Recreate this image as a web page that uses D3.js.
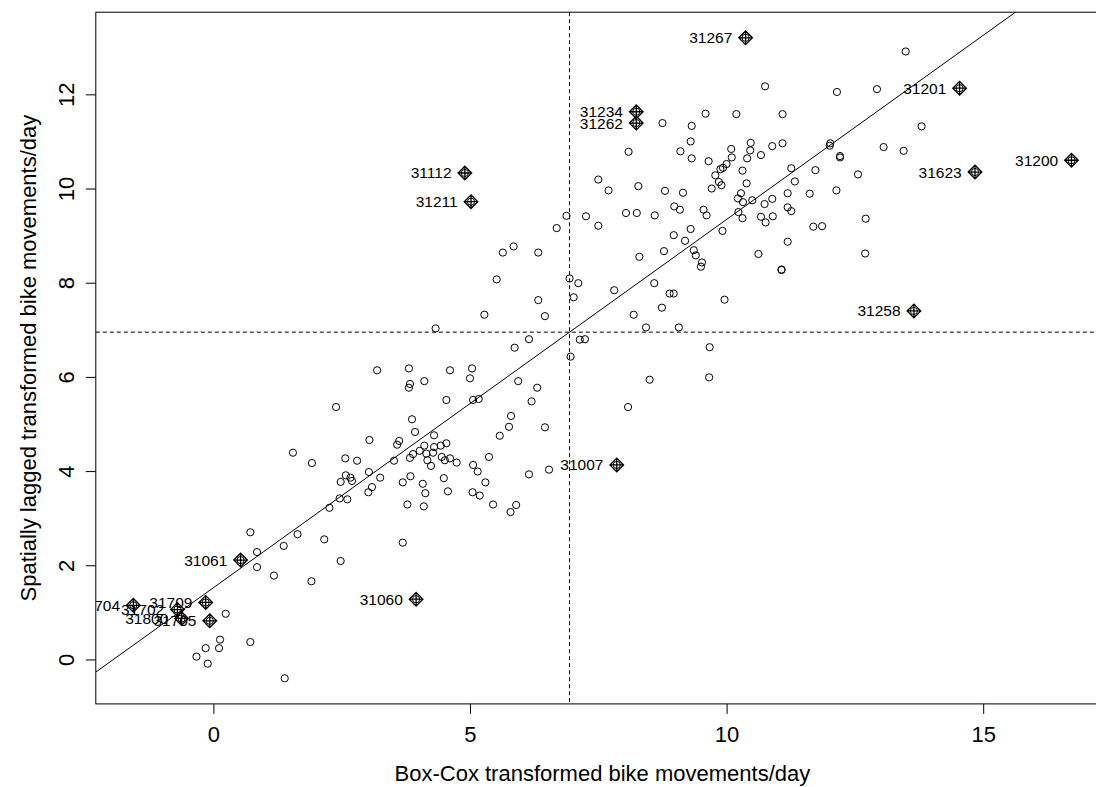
<!DOCTYPE html>
<html><head><meta charset="utf-8">
<script src="https://cdn.jsdelivr.net/npm/d3@7"></script>
<style>
body{margin:0;background:#fff;}
svg{display:block;font-family:"Liberation Sans",Arial,Helvetica,sans-serif;}
</style>
</head><body>
<svg id="chart" width="1096" height="787"></svg>
<script>
// Box-Cox transformed values (x) and spatially lagged values (y), ordinary points
const xVals = [
4.33,3.19,3.81,4.11,3.83,3.81,2.39,3.87,3.93,3.04,4.30,3.62,3.58,4.11,4.30,4.02,3.89,3.83,4.15,4.28,4.17,4.24,
3.52,2.80,2.57,3.03,3.25,2.58,2.67,2.70,2.48,3.09,3.02,3.84,3.69,4.08,4.13,3.78,4.10,2.46,2.61,2.26,1.55,1.92,
0.72,1.64,0.85,1.37,2.16,3.69,2.48,0.85,1.18,1.91,0.24,0.13,0.72,-0.15,0.11,-0.33,-0.11,1.39,
8.09,9.10,9.32,9.65,9.78,9.88,9.93,10.00,9.85,9.90,9.71,7.50,7.70,8.28,8.80,9.15,8.98,9.09,9.55,9.61,8.04,8.25,
8.60,6.88,7.26,7.50,6.69,9.30,8.97,9.92,9.19,9.36,9.40,9.52,9.50,8.78,8.30,5.64,5.85,6.33,5.52,6.94,7.11,7.02,
6.33,7.81,8.59,8.89,8.97,8.74,8.19,9.96,5.28,6.46,8.43,9.07,6.15,5.87,7.14,7.24,6.96,9.67,9.66,8.50,8.08,4.61,
5.04,5.00,5.94,6.31,5.06,5.17,4.54,6.20,5.80,5.76,6.46,5.58,4.54,4.43,4.61,4.45,4.51,4.74,5.37,5.06,5.15,5.30,
5.05,5.19,4.57,4.49,5.45,5.79,5.90,6.15,6.54,
9.59,8.75,9.32,9.30,
13.49,10.75,12.15,12.93,10.19,11.09,13.80,10.47,11.09,10.89,10.09,10.46,10.10,10.40,10.67,12.02,12.01,12.21,12.21,
13.06,13.45,10.31,11.26,11.73,12.56,10.39,11.33,10.28,11.19,11.62,12.14,10.22,10.32,10.50,10.74,10.89,10.23,10.31,
10.67,10.76,10.90,11.19,11.26,11.69,11.86,12.71,11.19,10.62,12.70,11.07,11.07
];
const yVals = [
7.03,6.14,6.18,5.91,5.85,5.77,5.36,5.10,4.83,4.66,4.76,4.64,4.56,4.54,4.51,4.43,4.36,4.28,4.37,4.39,4.23,4.11,
4.22,4.22,4.27,3.98,3.86,3.91,3.86,3.79,3.77,3.66,3.55,3.89,3.76,3.73,3.53,3.29,3.25,3.42,3.40,3.22,4.39,4.17,
2.70,2.66,2.28,2.41,2.55,2.48,2.09,1.96,1.78,1.66,0.97,0.42,0.37,0.24,0.24,0.06,-0.09,-0.40,
10.78,10.79,10.64,10.58,10.28,10.41,10.44,10.52,10.14,10.07,10.00,10.19,9.96,10.05,9.95,9.91,9.62,9.55,9.55,9.43,9.48,9.48,
9.43,9.42,9.41,9.21,9.16,9.14,9.01,9.10,8.89,8.69,8.58,8.43,8.34,8.67,8.55,8.64,8.77,8.64,8.07,8.09,7.99,7.69,
7.63,7.84,7.99,7.77,7.77,7.47,7.32,7.64,7.32,7.29,7.05,7.05,6.80,6.62,6.79,6.80,6.43,6.63,5.99,5.94,5.36,6.14,
6.18,5.97,5.91,5.77,5.51,5.53,5.51,5.48,5.17,4.94,4.93,4.75,4.59,4.54,4.27,4.30,4.23,4.18,4.30,4.13,3.99,3.76,
3.55,3.48,3.57,3.85,3.29,3.13,3.28,3.93,4.03,
11.59,11.39,11.33,11.00,
12.91,12.17,12.05,12.11,11.58,11.58,11.32,10.97,10.96,10.90,10.84,10.81,10.66,10.64,10.71,10.96,10.91,10.69,10.66,
10.88,10.80,10.38,10.43,10.39,10.30,10.11,10.15,9.90,9.90,9.89,9.96,9.79,9.71,9.75,9.67,9.78,9.50,9.37,
9.40,9.28,9.41,9.60,9.52,9.19,9.20,9.36,8.87,8.61,8.62,8.28,8.27
];
// influential stations
const inflIds = ["31267","31234","31262","31201","31112","31211","31623","31200","31258","31007","31061","31060","31709","31704","31702","31800","31705"];
const inflX = [10.37,8.24,8.24,14.54,4.90,5.02,14.84,16.72,13.65,7.86,0.53,3.95,-0.15,-1.56,-0.70,-0.62,-0.07];
const inflY = [13.20,11.63,11.39,12.13,10.33,9.72,10.35,10.60,7.40,4.13,2.11,1.28,1.21,1.15,1.06,0.87,0.82];

const xTicks = [0,5,10,15];
const yTicks = [0,2,4,6,8,10,12];
const meanX = 6.94, meanY = 6.95;
const fitIntercept = 1.523, fitSlope = 0.782;
const xTitle = "Box-Cox transformed bike movements/day";
const yTitle = "Spatially lagged transformed bike movements/day";

const allX = xVals.concat(inflX), allY = yVals.concat(inflY);
function rlim(a){const lo=d3.min(a),hi=d3.max(a),p=(hi-lo)*0.04;return [lo-p,hi+p];}
const m = {left:95.8, top:12.2, bottom:703.9, right:1109};
const x = d3.scaleLinear().domain(rlim(allX)).range([m.left, m.right]);
const y = d3.scaleLinear().domain(rlim(allY)).range([m.bottom, m.top]);

const svg = d3.select("#chart");
svg.append("rect").attr("width",1096).attr("height",787).attr("fill","#fff");
svg.append("defs").append("clipPath").attr("id","plotclip")
  .append("rect").attr("x",m.left).attr("y",m.top).attr("width",m.right-m.left).attr("height",m.bottom-m.top);

const plot = svg.append("g").attr("clip-path","url(#plotclip)");

// reference lines
plot.append("line").attr("x1",x(meanX)).attr("x2",x(meanX)).attr("y1",m.top).attr("y2",m.bottom)
  .attr("stroke","#000").attr("stroke-width",1).attr("stroke-dasharray","4,3");
plot.append("line").attr("x1",m.left).attr("x2",m.right).attr("y1",y(meanY)).attr("y2",y(meanY))
  .attr("stroke","#000").attr("stroke-width",1).attr("stroke-dasharray","4,3");
const xd = x.domain();
plot.append("line").attr("x1",x(xd[0])).attr("y1",y(fitIntercept+fitSlope*xd[0]))
  .attr("x2",x(xd[1])).attr("y2",y(fitIntercept+fitSlope*xd[1]))
  .attr("stroke","#000").attr("stroke-width",1);

// all points as open circles
const pts = d3.range(allX.length).map(i=>({x:allX[i],y:allY[i]}));
plot.selectAll("circle.pt").data(pts).join("circle").attr("class","pt")
  .attr("cx",d=>x(d.x)).attr("cy",d=>y(d.y)).attr("r",3.6)
  .attr("fill","none").attr("stroke","#000").attr("stroke-width",1);

// influential: diamond plus
const infl = inflIds.map((id,i)=>({id,x:inflX[i],y:inflY[i]}));
const R = 6.8;
plot.selectAll("path.inf").data(infl).join("path").attr("class","inf")
  .attr("d",d=>{const cx=x(d.x),cy=y(d.y);
    return `M${cx-R},${cy}L${cx},${cy-R}L${cx+R},${cy}L${cx},${cy+R}Z M${cx-R},${cy}L${cx+R},${cy} M${cx},${cy-R}L${cx},${cy+R}`;})
  .attr("fill","none").attr("stroke","#000").attr("stroke-width",1.3);
plot.selectAll("text.lab").data(infl).join("text").attr("class","lab")
  .attr("x",d=>x(d.x)-13.3).attr("y",d=>y(d.y)+5.5)
  .attr("text-anchor","end").attr("font-size",15.5).attr("fill","#000").text(d=>d.id);

// box
svg.append("rect").attr("x",m.left).attr("y",m.top).attr("width",m.right-m.left).attr("height",m.bottom-m.top)
  .attr("fill","none").attr("stroke","#000").attr("stroke-width",1);

// axes
const gx = svg.append("g").attr("transform",`translate(0,${m.bottom})`)
  .call(d3.axisBottom(x).tickValues(xTicks).tickSize(10).tickSizeOuter(0).tickFormat(d3.format("d")));
gx.select(".domain").remove();
gx.selectAll("line").attr("stroke","#000");
gx.selectAll("text").attr("y",37.8).attr("dy",0).attr("font-size",22).attr("fill","#000");

const gy = svg.append("g").attr("transform",`translate(${m.left},0)`)
  .call(d3.axisLeft(y).tickValues(yTicks).tickSize(10).tickSizeOuter(0).tickFormat(d3.format("d")));
gy.select(".domain").remove();
gy.selectAll("line").attr("stroke","#000");
gy.selectAll("text").attr("x",0).attr("dy",0).attr("text-anchor","middle")
  .attr("transform","translate(-22,0) rotate(-90)").attr("font-size",22).attr("fill","#000");
d3.selectAll("g").attr("font-family",null);

// titles
svg.append("text").attr("x",(m.left+m.right)/2).attr("y",780.5).attr("text-anchor","middle")
  .attr("font-size",22).attr("fill","#000").text(xTitle);
svg.append("text").attr("transform",`translate(36,${(m.top+m.bottom)/2}) rotate(-90)`).attr("text-anchor","middle")
  .attr("font-size",22).attr("fill","#000").text(yTitle);
</script>
</body></html>
